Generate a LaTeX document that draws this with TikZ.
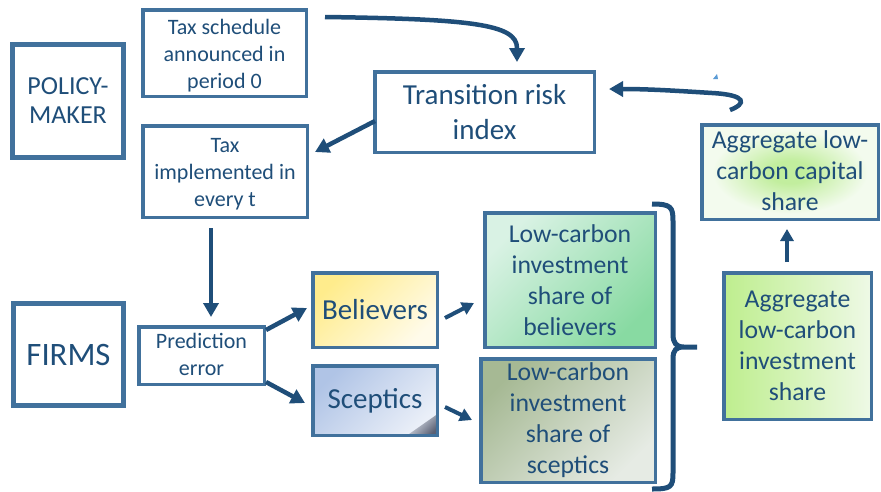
\documentclass[tikz,border=0pt]{standalone}
\usepackage{fontspec}
\setmainfont{Carlito}
\usetikzlibrary{arrows.meta}
\definecolor{txt}{HTML}{1F4E79}
\definecolor{bordc}{HTML}{41719C}
\definecolor{arrc}{HTML}{1F4E79}
\definecolor{agcin}{RGB}{194,238,158}
\definecolor{agcout}{RGB}{243,251,238}
\definecolor{lcbA}{RGB}{217,242,228}
\definecolor{lcbB}{RGB}{136,218,162}
\definecolor{lcsA}{RGB}{166,185,148}
\definecolor{lcsB}{RGB}{230,235,228}
\definecolor{agiA}{RGB}{190,238,142}
\definecolor{agiB}{RGB}{238,249,230}
\definecolor{belA}{RGB}{255,236,140}
\definecolor{belB}{RGB}{255,251,234}
\definecolor{scpA}{RGB}{176,196,230}
\definecolor{scpB}{RGB}{234,239,248}
\definecolor{scpC}{RGB}{90,96,116}
\definecolor{tiny}{RGB}{91,155,213}
\pgfdeclareradialshading{agcshade}{\pgfpoint{0bp}{0bp}}{color(0bp)=(agcin); color(6bp)=(agcin); color(22bp)=(agcout); color(50bp)=(agcout)}
\newcommand\shiftlines[2]{\raisebox{#1}[\height][\depth]{\begin{tabular}{@{}c@{}}#2\end{tabular}}}
\begin{document}
\begin{tikzpicture}[x=1pt,y=-1pt,
  box/.style={draw=bordc, line width=3.5pt, text=txt, align=center, inner sep=0pt},
  bigbox/.style={box, line width=5pt},
  arr/.style={draw=arrc, line width=4.5pt, -{Triangle[length=14pt,width=15pt]}},
  sarr/.style={draw=arrc, line width=4pt, -{Triangle[length=12pt,width=13pt]}},
  f22/.style={font=\fontsize{22}{27}\selectfont},
  f26/.style={font=\fontsize{25.7}{31}\selectfont},
  f29/.style={font=\fontsize{29}{35}\selectfont}]
\useasboundingbox (0,0) rectangle (881,491);
\fill[white] (0,0) rectangle (881,491);

% boxes
\node[bigbox, minimum width=111pt, minimum height=113pt, font=\fontsize{26}{29}\selectfont] (pm) at (68,101) {\shiftlines{-2pt}{POLICY-\\MAKER}};
\node[bigbox, minimum width=110pt, minimum height=102pt, font=\fontsize{32.7}{36}\selectfont] (firms) at (68.5,354.5) {FIRMS};
\node[box, f22, minimum width=163.5pt, minimum height=86.5pt] (ts) at (224.5,53) {\shiftlines{-3pt}{Tax schedule\\announced in\\period 0}};
\node[box, f22, minimum width=164.5pt, minimum height=91.5pt] (ti) at (225,171.5) {\shiftlines{-3pt}{Tax\\implemented in\\every t}};
\node[box, f29, minimum width=219.5pt, minimum height=80.5pt] (tri) at (484.5,112) {Transition risk\\index};
\node[box, f26, minimum width=176.5pt, minimum height=94.5pt, shading=agcshade] (agc) at (790,172) {\shiftlines{-1.5pt}{Aggregate low-\\carbon capital\\share}};
\node[box, f26, minimum width=170.5pt, minimum height=134.5pt, top color=lcbA, bottom color=lcbB, shading angle=45] (lcb) at (570,280) {Low-carbon\\investment\\share of\\believers};
\node[box, f26, minimum width=174.5pt, minimum height=123.5pt, top color=lcsA, bottom color=lcsB, shading angle=45] (lcs) at (568,420.5) {Low-carbon\\investment\\share of\\sceptics};
\node[box, f26, minimum width=147.5pt, minimum height=146.5pt, left color=agiA, right color=agiB] (agi) at (797.5,346) {\shiftlines{-1.5pt}{Aggregate\\low-carbon\\investment\\share}};
\node[box, f22, minimum width=125.5pt, minimum height=57.5pt] (pe) at (201.5,355.5) {\shiftlines{-1.5pt}{Prediction\\error}};
\node[box, f29, minimum width=124.5pt, minimum height=74.5pt, top color=belA, bottom color=belB, shading angle=45] (bel) at (375,310) {Believers};
\node[box, f29, minimum width=124.5pt, minimum height=69.5pt, top color=scpA, bottom color=scpB, shading angle=45] (scp) at (375,400.5) {};
% dark corner of the sceptics box
\shade[top color=scpB, bottom color=scpC, shading angle=45]
  ([xshift=-1.75pt,yshift=1.75pt]scp.south east) -- ++(-30,0) -- ++(30,-21) -- cycle;
\node[draw=bordc, line width=3.5pt, minimum width=124.5pt, minimum height=69.5pt, inner sep=0pt] at (scp.center) {};
\node[text=txt, f29] at (scp.center) {Sceptics};

% arrows
\draw[arr] ([xshift=17pt,yshift=36pt]ts.east) .. controls (470,19) and (517,24) .. (517,48) -- ([xshift=32.5pt,yshift=8pt]tri.north);
\draw[arr] ([xshift=2pt,yshift=-9pt]tri.west) -- ([xshift=6pt,yshift=19.5pt]ti.east);
\draw[arr] ([xshift=-60pt,yshift=13pt]agc.north) .. controls (746,104) and (748,95) .. (712,93) .. controls (680,91) and (650,89) .. ([xshift=13pt,yshift=23pt]tri.east);
\draw[arr, shorten <=9pt, shorten >=8pt] ([xshift=-14pt]ti.south) -- ([xshift=9.5pt]pe.north);
\draw[arr] ([yshift=25.5pt]pe.east) -- ([xshift=-4pt,yshift=2pt]bel.west);
\draw[arr] ([yshift=-26.5pt]pe.east) -- ([xshift=-6pt,yshift=-2.5pt]scp.west);
\draw[sarr] ([xshift=6pt,yshift=-8pt]bel.east) -- ([xshift=-9pt,yshift=-23pt]lcb.west);
\draw[sarr] ([xshift=6pt,yshift=-6.5pt]scp.east) -- ([xshift=-7pt,yshift=0.5pt]lcs.west);
\draw[sarr, shorten <=9pt, shorten >=8pt] ([xshift=-10.5pt]agi.north) -- ([xshift=-3pt]agc.south);

% brace
\draw[arrc, line width=5pt]
  (652,204) .. controls (671,204) and (673,207) .. (673,221) -- (673,334)
  .. controls (673,343) and (676,347) .. (684,347) -- (697,347)
  (684,347) .. controls (676,347) and (673,350) .. (673,359) -- (673,473)
  .. controls (673,487) and (671,489) .. (652,489);

% small artefact
\fill[tiny] (713,79) -- (718,79) -- (717,74) -- cycle;
\end{tikzpicture}
\end{document}
